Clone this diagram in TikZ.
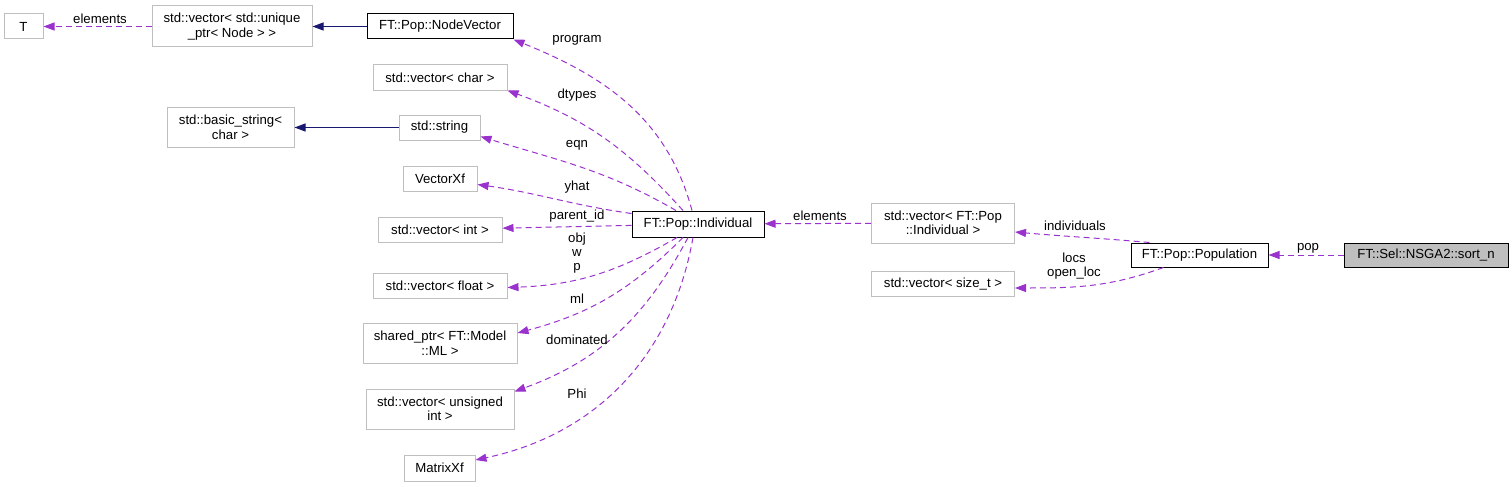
\documentclass[tikz,border=0pt]{standalone}
\usepackage{fontspec}
\setmainfont{Liberation Sans}
\usetikzlibrary{positioning,arrows.meta}
\definecolor{doxPurple}{RGB}{154,50,205}
\definecolor{doxNavy}{RGB}{25,25,112}
\definecolor{doxGray}{RGB}{191,191,191}

\begin{document}
\begin{tikzpicture}[x=1pt, y=-1pt,
    cls/.style={draw=doxGray, line width=1pt, fill=white, align=center,
      font=\fontsize{13.2}{14.5}\selectfont, inner sep=2pt, minimum height=25pt},
    main/.style={cls, draw=black},
    lbl/.style={align=center, inner sep=0pt, font=\fontsize{13.2}{14}\selectfont},
    usage/.style={-{Triangle[length=11pt,width=8pt]}, dash pattern=on 6pt off 4pt,
      line width=1pt, color=doxPurple},
    inherit/.style={-{Triangle[length=11pt,width=8pt]}, line width=1pt, color=doxNavy}
  ]
    \useasboundingbox (0,0) rectangle (1512,487);

    \node[cls, minimum width=160pt, minimum height=41pt] (uptrvec) at (232,26.5)
      {std::vector< std::unique\\\_ptr< Node > >};
    \node[cls, minimum width=39pt, left=108pt of uptrvec] (tnode) {T};
    \node[main, minimum width=146pt] (nodevec) at (440,26.5) {FT::Pop::NodeVector};
    \node[cls, minimum width=134pt] (vecchar) at (440,77.5) {std::vector< char >};
    \node[cls, minimum width=81pt] (stdstr) at (439.5,127.5) {std::string};
    \node[cls, minimum width=127pt, minimum height=40pt, left=104pt of stdstr] (basicstr)
      {std::basic\_string<\\char >};
    \node[cls, minimum width=74pt] (vecxf) at (440,178.5) {VectorXf};
    \node[cls, minimum width=124pt] (vecint) at (440,229.5) {std::vector< int >};
    \node[cls, minimum width=134pt] (vecfloat) at (440,285.5) {std::vector< float >};
    \node[cls, minimum width=154pt, minimum height=40pt] (shptr) at (440,343)
      {shared\_ptr< FT::Model\\::ML >};
    \node[cls, minimum width=148pt, minimum height=40pt] (vecuns) at (440,409)
      {std::vector< unsigned\\int >};
    \node[cls, minimum width=71pt, minimum height=26pt] (matxf) at (439.5,468) {MatrixXf};

    \node[main, minimum width=132pt, minimum height=26pt] (indiv) at (698,224) {FT::Pop::Individual};
    \node[cls, minimum width=143pt, minimum height=40pt] (vecind) at (943,223)
      {std::vector< FT::Pop\\::Individual >};
    \node[cls, minimum width=143pt] (vecsize) at (943,284) {std::vector< size\_t >};
    \node[main, minimum width=137pt, minimum height=24pt] (pop) at (1199.5,255) {FT::Pop::Population};
    \node[main, fill=doxGray, minimum width=164pt, minimum height=24pt, right=75pt of pop] (sortn)
      {FT::Sel::NSGA2::sort\_n};

    \draw[inherit] (nodevec) -- (uptrvec);
    \draw[inherit] (stdstr) -- (basicstr);
    \draw[usage] (uptrvec) -- (tnode);

    \draw[usage] ([xshift=-6pt]indiv.north) to[out=105, in=-22] (nodevec.south east);
    \draw[usage] ([xshift=-15pt]indiv.north) to[out=132, in=-20] (vecchar.south east);
    \draw[usage] ([xshift=-22pt]indiv.north) to[out=150, in=-17] ([yshift=-9pt]stdstr.east);
    \draw[usage] ([yshift=-3pt]indiv.north west) to[out=172, in=-8] ([yshift=-6pt]vecxf.east);
    \draw[usage] (indiv) -- (vecint);
    \draw[usage] ([xshift=-21pt]indiv.south) to[out=-150, in=2] ([yshift=-2pt]vecfloat.east);
    \draw[usage] ([xshift=-15pt]indiv.south) to[out=-135, in=15] ([yshift=10pt]shptr.east);
    \draw[usage] ([xshift=-10pt]indiv.south) to[out=-118, in=20] ([yshift=-3pt]vecuns.north east);
    \draw[usage] ([xshift=-5pt]indiv.south) to[out=-100, in=12] ([yshift=8pt]matxf.east);

    \draw[usage] (vecind) -- (indiv);
    \draw[usage] ([xshift=-50pt]pop.north) to[out=175, in=-5] ([yshift=-9pt]vecind.east);
    \draw[usage] ([xshift=-36pt]pop.south) to[out=-160, in=0] ([yshift=-4pt]vecsize.east);
    \draw[usage] (sortn) -- (pop);

    \node[lbl] (lelemt) at (100,19) {elements};
    \node[lbl] (lprog) at (577,40) {program};
    \node[lbl] (ldtypes) at (577,95) {dtypes};
    \node[lbl] (leqn) at (577,145) {eqn};
    \node[lbl] (lyhat) at (577,187) {yhat};
    \node[lbl] (lparent) at (577,216) {parent\_id};
    \node[lbl] (lobj) at (577,253) {obj\\w\\p};
    \node[lbl] (lml) at (577,299) {ml};
    \node[lbl] (ldom) at (577,340) {dominated};
    \node[lbl] (lphi) at (577,394) {Phi};
    \node[lbl] (lelemi) at (820,216) {elements};
    \node[lbl] (lindiv) at (1075,226) {individuals};
    \node[lbl] (llocs) at (1074,266) {locs\\open\_loc};
    \node[lbl] (lpop) at (1308,248) {pop};
  \end{tikzpicture}
\end{document}
